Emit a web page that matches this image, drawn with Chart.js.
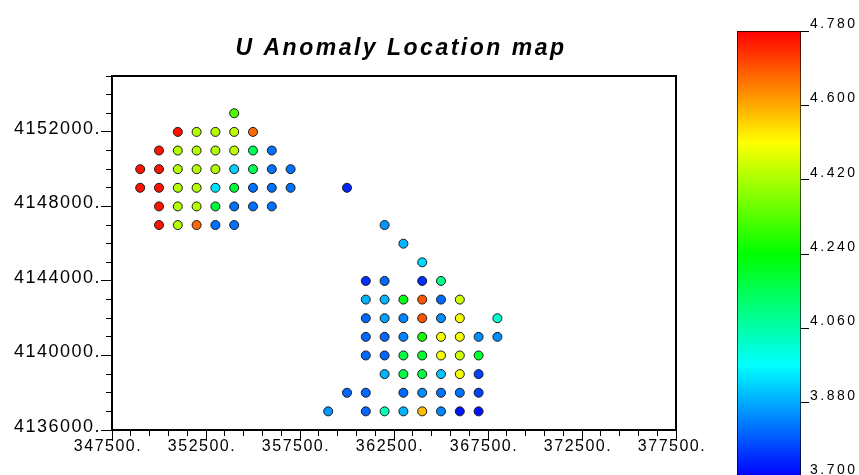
<!DOCTYPE html>
<html>
<head>
<meta charset="utf-8">
<script src="https://cdn.jsdelivr.net/npm/chart.js@4/dist/chart.umd.min.js"></script>
<style>
  html, body { margin: 0; padding: 0; background: #fff; overflow: hidden; }
  #wrap { position: relative; width: 859px; height: 475px; overflow: hidden; background: #fff; }
  #main { position: absolute; left: 0; top: 0; }
  #cbar { position: absolute; left: 700px; top: 0; }
</style>
</head>
<body>
<div id="wrap">
  <canvas id="main" width="802" height="475"></canvas>
  <canvas id="cbar" width="159" height="490"></canvas>
</div>
<script>
// ---------------- data ----------------
const chartTitle = 'U Anomaly Location map';

const eastings = [
  354000,
  351000, 352000, 353000, 354000, 355000,
  350000, 351000, 352000, 353000, 354000, 355000, 356000,
  349000, 350000, 351000, 352000, 353000, 354000, 355000, 356000, 357000,
  349000, 350000, 351000, 352000, 353000, 354000, 355000, 356000, 357000, 360000,
  350000, 351000, 352000, 353000, 354000, 355000, 356000,
  350000, 351000, 352000, 353000, 354000, 362000,
  363000,
  364000,
  361000, 362000, 364000, 365000,
  361000, 362000, 363000, 364000, 365000, 366000,
  361000, 362000, 363000, 364000, 365000, 366000, 368000,
  361000, 362000, 363000, 364000, 365000, 366000, 367000, 368000,
  361000, 362000, 363000, 364000, 365000, 366000, 367000,
  362000, 363000, 364000, 365000, 366000, 367000,
  360000, 361000, 363000, 364000, 365000, 366000, 367000,
  359000, 361000, 362000, 363000, 364000, 365000, 366000, 367000
];

const northings = [
  4153000,
  4152000, 4152000, 4152000, 4152000, 4152000,
  4151000, 4151000, 4151000, 4151000, 4151000, 4151000, 4151000,
  4150000, 4150000, 4150000, 4150000, 4150000, 4150000, 4150000, 4150000, 4150000,
  4149000, 4149000, 4149000, 4149000, 4149000, 4149000, 4149000, 4149000, 4149000, 4149000,
  4148000, 4148000, 4148000, 4148000, 4148000, 4148000, 4148000,
  4147000, 4147000, 4147000, 4147000, 4147000, 4147000,
  4146000,
  4145000,
  4144000, 4144000, 4144000, 4144000,
  4143000, 4143000, 4143000, 4143000, 4143000, 4143000,
  4142000, 4142000, 4142000, 4142000, 4142000, 4142000, 4142000,
  4141000, 4141000, 4141000, 4141000, 4141000, 4141000, 4141000, 4141000,
  4140000, 4140000, 4140000, 4140000, 4140000, 4140000, 4140000,
  4139000, 4139000, 4139000, 4139000, 4139000, 4139000,
  4138000, 4138000, 4138000, 4138000, 4138000, 4138000, 4138000,
  4137000, 4137000, 4137000, 4137000, 4137000, 4137000, 4137000, 4137000
];

const uValues = [
  4.32,
  4.76, 4.43, 4.43, 4.44, 4.67,
  4.76, 4.43, 4.43, 4.43, 4.44, 4.15, 3.82,
  4.76, 4.76, 4.43, 4.43, 4.43, 3.92, 4.15, 3.82, 3.82,
  4.76, 4.76, 4.43, 4.43, 3.94, 4.18, 3.82, 3.82, 3.82, 3.74,
  4.76, 4.43, 4.43, 4.18, 3.82, 3.82, 3.82,
  4.76, 4.43, 4.67, 3.82, 3.82, 3.86,
  3.89,
  3.93,
  3.75, 3.81, 3.75, 4.10,
  3.89, 3.89, 4.22, 4.69, 3.81, 4.46,
  3.81, 3.87, 3.84, 4.69, 3.85, 4.50, 4.02,
  3.81, 3.81, 3.84, 4.26, 4.50, 4.50, 3.85, 3.85,
  3.81, 3.81, 4.17, 4.19, 4.50, 4.46, 4.19,
  3.89, 4.17, 4.17, 3.91, 4.50, 3.77,
  3.81, 3.81, 3.81, 3.85, 3.82, 3.82, 3.77,
  3.86, 3.81, 4.05, 3.89, 4.58, 3.84, 3.72, 3.72
];

const xRange = [347500, 377500];
const yRange = [4136000, 4155000];
const xTickLabels = [347500, 352500, 357500, 362500, 367500, 372500, 377500];
const yTickLabels = [4136000, 4140000, 4144000, 4148000, 4152000];
const minorStep = 1000;

const cbRange = [3.70, 4.78];
const cbTickLabels = [3.70, 3.88, 4.06, 4.24, 4.42, 4.60, 4.78];

// ---------------- helpers ----------------
function hueFor(v) {
  let t = (cbRange[1] - v) / (cbRange[1] - cbRange[0]);
  t = Math.max(0, Math.min(1, t));
  return 240 * t;
}
function colorFor(v) { return 'hsl(' + hueFor(v).toFixed(1) + ',100%,50%)'; }

function minorTicks(r) {
  const out = [];
  for (let v = r[0]; v <= r[1] + 1e-6; v += minorStep) out.push({ value: v });
  return out;
}

const FONT = 'Liberation Sans, Arial, Helvetica, sans-serif';

const spacingPlugin = {
  id: 'spacing',
  beforeDraw(chart, args, opts) {
    chart.ctx.letterSpacing = opts.ticks || '0px';
    const tb = chart.titleBlock;
    if (tb && !tb.__lsPatched) {
      const orig = tb.draw.bind(tb);
      tb.draw = function () {
        const ctx = chart.ctx;
        const prev = ctx.letterSpacing;
        ctx.letterSpacing = opts.title || '0px';
        orig();
        ctx.letterSpacing = prev;
      };
      tb.__lsPatched = true;
    }
  }
};

const framePlugin = {
  id: 'frame',
  afterDraw(chart) {
    const a = chart.chartArea, ctx = chart.ctx;
    ctx.save();
    ctx.strokeStyle = '#000';
    ctx.lineWidth = 2;
    ctx.strokeRect(a.left, a.top, a.right - a.left, a.bottom - a.top);
    ctx.restore();
  }
};

// ---------------- main scatter chart ----------------
const points = eastings.map((e, i) => ({ x: e, y: northings[i] }));

new Chart(document.getElementById('main'), {
  type: 'scatter',
  data: {
    datasets: [{
      data: points,
      pointRadius: 4.5,
      pointHoverRadius: 4.5,
      pointBorderWidth: 1,
      pointBorderColor: '#1a1a1a',
      pointBackgroundColor: (c) => colorFor(uValues[c.dataIndex])
    }]
  },
  options: {
    responsive: false,
    animation: false,
    devicePixelRatio: 1,
    events: [],
    layout: { padding: { left: 0, right: 0, top: 0, bottom: 0 } },
    plugins: {
      legend: { display: false },
      tooltip: { enabled: false },
      title: {
        display: true,
        text: chartTitle,
        color: '#000',
        font: { family: FONT, size: 23, weight: 'bold', style: 'italic', lineHeight: 1.2 },
        padding: { top: 35.2, bottom: 13.2 }
      },
      spacing: { ticks: '1.5px', title: '2.5px' }
    },
    scales: {
      xMinor: {
        type: 'linear', axis: 'x', position: 'bottom', weight: 0,
        min: xRange[0], max: xRange[1],
        afterBuildTicks: (s) => { s.ticks = minorTicks(xRange); },
        afterFit: (s) => { s.height = 0; },
        ticks: { display: false },
        grid: { drawOnChartArea: false, drawTicks: true, tickLength: 6, color: '#000', lineWidth: 1 },
        border: { display: false }
      },
      x: {
        type: 'linear', position: 'bottom', weight: 1,
        min: xRange[0], max: xRange[1],
        afterBuildTicks: (s) => { s.ticks = xTickLabels.map(v => ({ value: v })); },
        afterFit: (s) => { s.height = 45; },
        ticks: {
          autoSkip: false, maxRotation: 0, minRotation: 0,
          color: '#000', padding: -4, labelOffset: -4,
          font: { family: FONT, size: 16 },
          callback: (v) => v + '.'
        },
        grid: { drawOnChartArea: false, drawTicks: true, tickLength: 11, color: '#000', lineWidth: 1 },
        border: { display: true, color: '#000', width: 2 }
      },
      yMinor: {
        type: 'linear', axis: 'y', position: 'left', weight: 0,
        min: yRange[0], max: yRange[1],
        afterBuildTicks: (s) => { s.ticks = minorTicks(yRange); },
        afterFit: (s) => { s.width = 0; },
        ticks: { display: false },
        grid: { drawOnChartArea: false, drawTicks: true, tickLength: 6, color: '#000', lineWidth: 1 },
        border: { display: false }
      },
      y: {
        type: 'linear', position: 'left', weight: 1,
        min: yRange[0], max: yRange[1],
        afterBuildTicks: (s) => { s.ticks = yTickLabels.map(v => ({ value: v })); },
        afterFit: (s) => { s.width = 112; },
        ticks: {
          autoSkip: false, color: '#000', padding: 0, labelOffset: -3,
          font: { family: FONT, size: 18 },
          callback: (v) => v + '.'
        },
        grid: { drawOnChartArea: false, drawTicks: true, tickLength: 11, color: '#000', lineWidth: 1 },
        border: { display: true, color: '#000', width: 2 }
      },
      yR: {
        type: 'linear', axis: 'y', position: 'right',
        afterFit: (s) => { s.width = 126; },
        ticks: { display: false },
        grid: { display: false },
        border: { display: false }
      }
    }
  },
  plugins: [spacingPlugin, framePlugin]
});

// ---------------- colour bar ----------------
function barGradient(c) {
  const chart = c.chart;
  const ys = chart.scales && chart.scales.y;
  if (!chart.chartArea || !ys) return 'rgba(0,0,0,0)';
  const top = ys.getPixelForValue(cbRange[1]);
  const bot = ys.getPixelForValue(cbRange[0]);
  const g = chart.ctx.createLinearGradient(0, top, 0, bot);
  g.addColorStop(0, 'hsl(0,100%,50%)');
  g.addColorStop(0.25, 'hsl(60,100%,50%)');
  g.addColorStop(0.5, 'hsl(120,100%,50%)');
  g.addColorStop(0.75, 'hsl(180,100%,50%)');
  g.addColorStop(1, 'hsl(240,100%,50%)');
  return g;
}

new Chart(document.getElementById('cbar'), {
  type: 'bar',
  data: {
    labels: [''],
    datasets: [{
      data: [[cbRange[0], cbRange[1]]],
      backgroundColor: barGradient,
      borderColor: '#000',
      borderWidth: 1,
      borderSkipped: false,
      barPercentage: 1,
      categoryPercentage: 1
    }]
  },
  options: {
    responsive: false,
    animation: false,
    devicePixelRatio: 1,
    events: [],
    layout: { padding: { left: 37, right: 0, top: 31, bottom: 13 } },
    plugins: {
      legend: { display: false },
      tooltip: { enabled: false },
      title: { display: false },
      spacing: { ticks: '2.5px' }
    },
    scales: {
      x: { display: false },
      y: {
        type: 'linear', position: 'right',
        min: cbRange[0], max: cbRange[1],
        afterBuildTicks: (s) => { s.ticks = cbTickLabels.map(v => ({ value: v })); },
        afterFit: (s) => { s.width = 58; },
        ticks: {
          autoSkip: false, color: '#000', padding: 1, labelOffset: -7,
          font: { family: FONT, size: 14 },
          callback: (v) => Number(v).toFixed(3)
        },
        grid: { drawOnChartArea: false, drawTicks: true, tickLength: 8, color: '#000', lineWidth: 1 },
        border: { display: false }
      }
    }
  },
  plugins: [spacingPlugin]
});
</script>
</body>
</html>
